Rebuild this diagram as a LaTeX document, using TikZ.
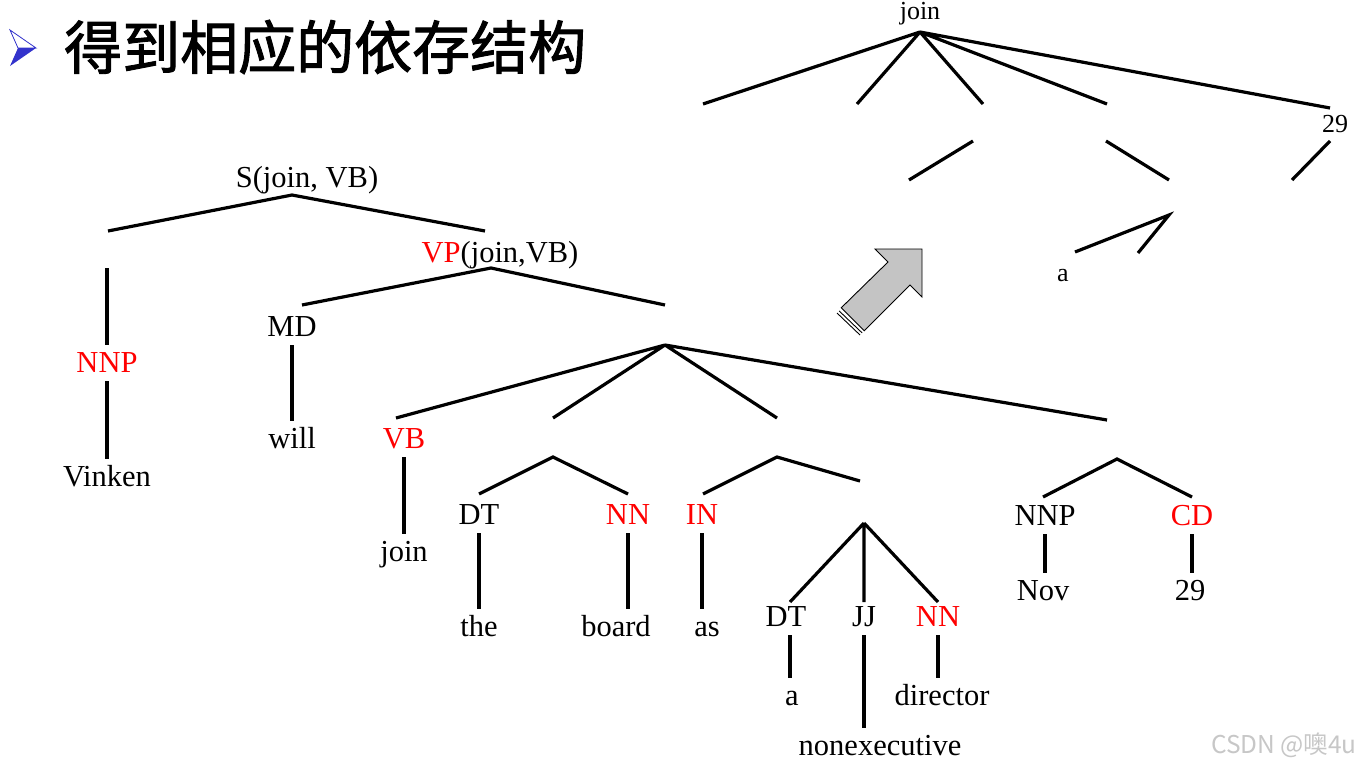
\documentclass[tikz,border=0pt]{standalone}
\usepackage{fontspec}
\setmainfont{Liberation Serif}
\newfontfamily\cjk{Noto Sans CJK SC}
\usepackage{tikz}
\usepackage{xcolor}
\definecolor{tagred}{HTML}{FF0000}
\definecolor{bulletblue}{HTML}{3333CC}
\definecolor{arrowgray}{HTML}{C4C4C4}

\tikzset{
  edge/.style={line width=3.2pt},
  lbl/.style={anchor=base,inner sep=4pt,text height=23pt,text depth=5pt,
    font=\fontsize{30.5}{34}\selectfont},
  tag/.style={lbl,text=tagred},
  ghost/.style={anchor=base,inner sep=1pt,font=\fontsize{26}{30}\selectfont},
}

\begin{document}
\begin{tikzpicture}[x=1pt,y=-1pt]
  \fill[white] (0,0) rectangle (1362,769);
  \useasboundingbox (0,0) rectangle (1362,769);

  % title
  \fill[white,draw=bulletblue,line width=0.8pt] (10,30) -- (36,48) -- (18,48) -- cycle;
  \fill[bulletblue] (18,48) -- (36,48) -- (10,66) -- cycle;
  \node[anchor=west,inner sep=0pt,
    font=\cjk\addfontfeature{FakeBold=1.6}\fontsize{58}{62}\selectfont]
    (title) at (64,47) {得到相应的依存结构};

  % lexicalized parse tree
  \node[lbl] (sLbl) at (307,187) {S(join, VB)};
  \node[lbl] (vpLbl) at (500,262) {\textcolor{tagred}{VP}(join,VB)};
  \node[tag] (nnpA) at (107,372) {NNP};
  \node[lbl] (vinken) at (107,486) {Vinken};
  \node[lbl] (md) at (292,336) {MD};
  \node[lbl] (will) at (292,448) {will};
  \node[tag] (vb) at (404,448) {VB};
  \node[lbl] (joinW) at (404,561) {join};
  \node[lbl] (dtA) at (479,524) {DT};
  \node[tag] (nnA) at (628,524) {NN};
  \node[tag] (in) at (702,524) {IN};
  \node[lbl] (the) at (479,636) {the};
  \node[lbl] (board) at (616,636) {board};
  \node[lbl] (as) at (707,636) {as};
  \node[lbl] (dtB) at (786,626) {DT};
  \node[lbl] (jj) at (864,626) {JJ};
  \node[tag] (nnB) at (938,626) {NN};
  \node[lbl] (aW) at (792,705) {a};
  \node[lbl] (nonexec) at (880,755) {nonexecutive};
  \node[lbl] (director) at (942,705) {director};
  \node[lbl] (nnpB) at (1045,525) {NNP};
  \node[tag] (cd) at (1192,525) {CD};
  \node[lbl] (nov) at (1043,600) {Nov};
  \node[lbl] (num) at (1190,600) {29};

  \coordinate (s) at (292,195);
  \coordinate (s-l) at (108,231);
  \coordinate (s-r) at (485,231);
  \coordinate (np1) at (107,268);
  \coordinate (vp) at (491,268);
  \coordinate (vp-l) at (302,305);
  \coordinate (vp-r) at (665,305);
  \coordinate (vp2) at (665,345);
  \coordinate (vp2-a) at (396,418);
  \coordinate (vp2-b) at (553,418);
  \coordinate (vp2-c) at (777,418);
  \coordinate (vp2-d) at (1107,420);
  \coordinate (np2) at (553,457);
  \coordinate (np2-l) at (479,494);
  \coordinate (np2-r) at (628,494);
  \coordinate (pp) at (777,457);
  \coordinate (pp-l) at (703,494);
  \coordinate (pp-r) at (860,481);
  \coordinate (np3) at (864,523);
  \coordinate (np3-l) at (790,602);
  \coordinate (np3-m) at (864,602);
  \coordinate (np3-r) at (938,602);
  \coordinate (np4) at (1117,459);
  \coordinate (np4-l) at (1043,497);
  \coordinate (np4-r) at (1192,497);

  \draw[edge] (s-l) -- (s) -- (s-r);
  \draw[edge] (np1) -- (nnpA.north);
  \draw[edge] (nnpA.south) -- (vinken.north);
  \draw[edge] (vp-l) -- (vp) -- (vp-r);
  \draw[edge] (md.south) -- (will.north);
  \draw[edge] (vp2) -- (vp2-a) (vp2) -- (vp2-b) (vp2) -- (vp2-c) (vp2) -- (vp2-d);
  \draw[edge] (vb.south) -- (joinW.north);
  \draw[edge] (np2-l) -- (np2) -- (np2-r);
  \draw[edge] (dtA.south) -- (the.north);
  \draw[edge] (nnA.south) -- (nnA.south |- board.north);
  \draw[edge] (pp-l) -- (pp) -- (pp-r);
  \draw[edge] (in.south) -- (in.south |- as.north);
  \draw[edge] (np3) -- (np3-l) (np3) -- (np3-m) (np3) -- (np3-r);
  \draw[edge] ([xshift=4pt]dtB.south) -- ([xshift=4pt]dtB.south |- aW.north);
  \draw[edge] (jj.south) -- (jj.south |- nonexec.north);
  \draw[edge] (nnB.south) -- (nnB.south |- director.north);
  \draw[edge] (np4-l) -- (np4) -- (np4-r);
  \draw[edge] (nnpB.south) -- (nnpB.south |- nov.north);
  \draw[edge] (cd.south) -- (cd.south |- num.north);

  % block arrow
  \draw[fill=arrowgray,line width=0.9pt] (875,249) -- (922,249) -- (922,297)
    -- (910,285) -- (864.2,330.8) -- (841.2,307.8) -- (888,262) -- cycle;
  \draw[line width=0.9pt] (837,313) -- (860,335);
  \draw[line width=0.9pt] (839.1,310.9) -- (862.1,332.9);

  % dependency tree
  \node[ghost] (depJoin) at (920,19) {join};
  \node[ghost] (dep29) at (1335,132) {29};
  \node[ghost] (depA) at (1063,281) {a};

  \coordinate (jt) at (920,32);
  \coordinate (jt-a) at (703,104);
  \coordinate (jt-b) at (857,104);
  \coordinate (jt-c) at (983,104);
  \coordinate (jt-d) at (1107,104);
  \coordinate (jt-e) at (1330,108);
  \coordinate (m1a) at (973,141);
  \coordinate (m1b) at (909,180);
  \coordinate (m2a) at (1106,141);
  \coordinate (m2b) at (1169,180);
  \coordinate (m3a) at (1330,141);
  \coordinate (m3b) at (1292,180);
  \coordinate (lo) at (1169,215);
  \coordinate (lo-l) at (1075,252);
  \coordinate (lo-r) at (1138,253);

  \draw[edge] (jt) -- (jt-a) (jt) -- (jt-b) (jt) -- (jt-c) (jt) -- (jt-d) (jt) -- (jt-e);
  \draw[edge] (m1a) -- (m1b);
  \draw[edge] (m2a) -- (m2b);
  \draw[edge] (m3a) -- (m3b);
  \draw[edge] (lo-l) -- (lo) -- (lo-r);

  \node[anchor=east,inner sep=0pt,text=black!22,font=\cjk\fontsize{24.5}{28}\selectfont]
    (mark) at (1357,745) {CSDN @噢4u};
\end{tikzpicture}
\end{document}
